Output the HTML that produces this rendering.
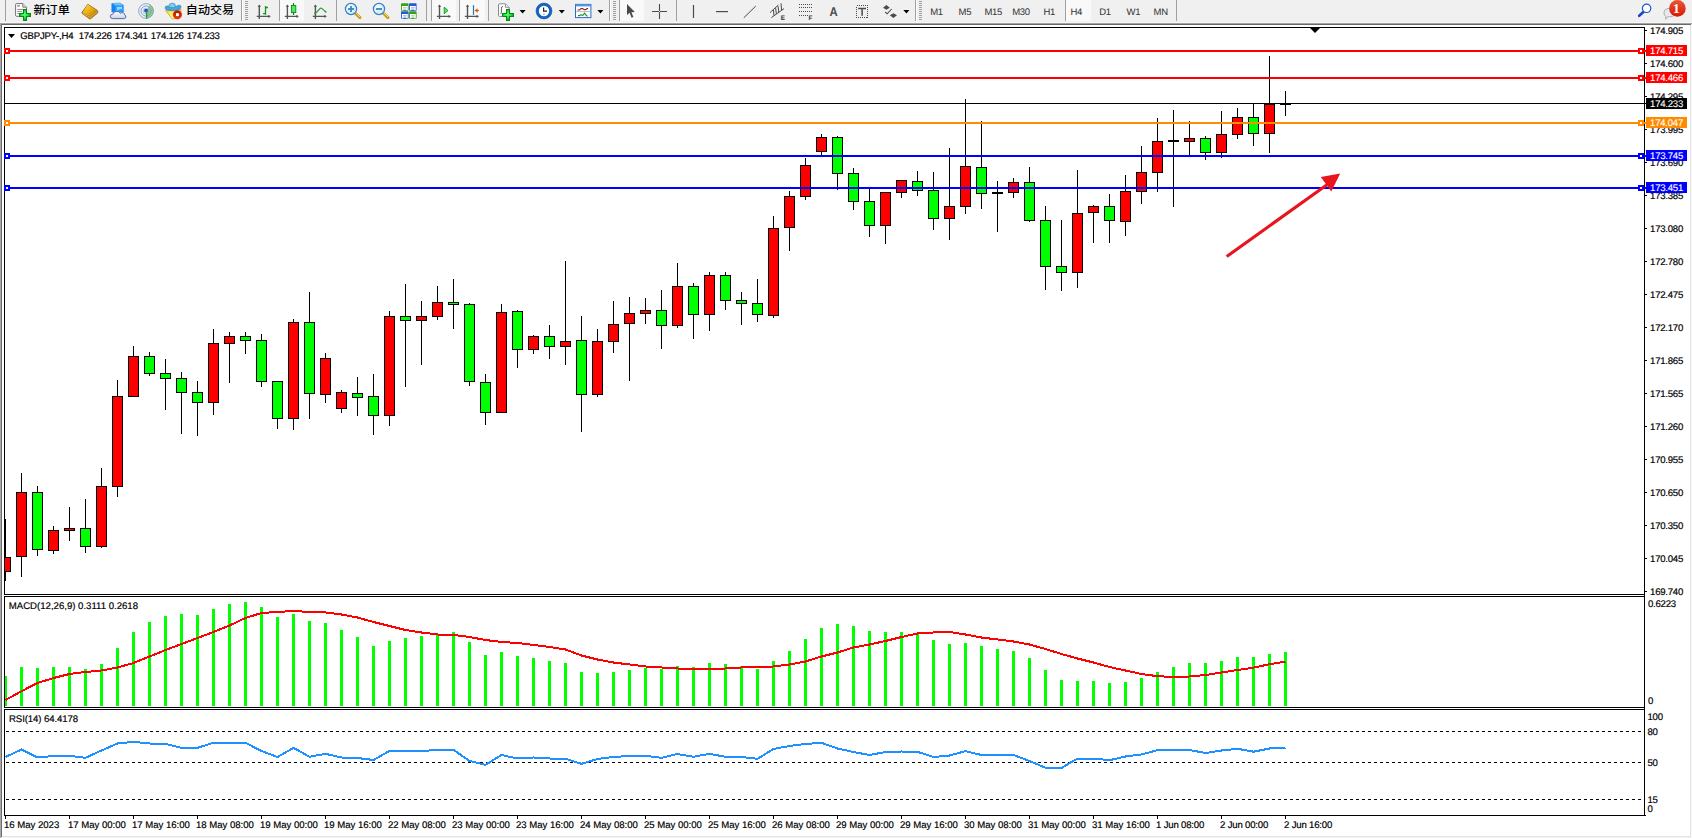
<!DOCTYPE html>
<html lang="zh"><head><meta charset="utf-8"><title>GBPJPY-,H4</title>
<style>
html,body{margin:0;padding:0;background:#fff;width:1692px;height:838px;overflow:hidden}
svg{position:absolute;left:0;top:0;display:block}
text{font-family:"Liberation Sans","Noto Sans CJK SC",sans-serif;font-size:9.6px;fill:#000;white-space:pre;text-rendering:geometricPrecision;stroke:#000;stroke-width:0.18px}
.ce{shape-rendering:crispEdges}
.pl{letter-spacing:-0.25px}
.sy{letter-spacing:-0.19px}
.rs{letter-spacing:-0.1px}
.cj{font-size:12.1px;font-weight:500;letter-spacing:0px}
.tf{font-size:9.5px;fill:#383838;stroke:#383838;stroke-width:0.05px;letter-spacing:-0.35px}
.cj{stroke-width:0;text-rendering:auto}
.dt{letter-spacing:-0.02px}
.ti{letter-spacing:0px}
</style></head><body>
<svg width="1692" height="838" viewBox="0 0 1692 838">

<g class="ce">
<rect x="0" y="0" width="1692" height="838" fill="#ffffff"/>
<rect x="0" y="0" width="1692" height="22" fill="#f0f0f0"/>
<rect x="0" y="22" width="1692" height="1" fill="#f6f6f6"/>
<rect x="0" y="23" width="1692" height="1" fill="#a4a4a4"/>
<rect x="0" y="24" width="1691" height="1" fill="#696969"/>
<rect x="0" y="24" width="1" height="814" fill="#a8a8a8"/>
<rect x="1" y="25" width="1" height="813" fill="#6e6e6e"/>
<rect x="1690" y="25" width="1" height="813" fill="#e3e3e3"/>
<rect x="1691" y="24" width="1" height="814" fill="#f8f8f8"/>
<rect x="2" y="836" width="1689" height="1" fill="#e3e3e3"/>
<rect x="1" y="837" width="1691" height="1" fill="#f4f4f4"/>
</g>
<g class="ce" fill="#000">
<rect x="4" y="27" width="1641" height="1"/>
<rect x="4" y="27" width="1" height="568"/>
<rect x="4" y="594" width="1641" height="1"/>
<rect x="1644" y="27" width="1" height="789"/>
<rect x="4" y="596" width="1641" height="1"/>
<rect x="4" y="596" width="1" height="112"/>
<rect x="4" y="707" width="1641" height="1"/>
<rect x="4" y="709" width="1641" height="1"/>
<rect x="4" y="709" width="1" height="107"/>
<rect x="4" y="815" width="1642" height="1"/>
</g>
<g class="ce">
<rect x="5" y="519" width="1" height="62" fill="#000"/>
<rect x="5" y="557" width="6" height="15" fill="#000"/>
<rect x="5" y="558" width="5" height="13" fill="#ff0000"/>
<rect x="21" y="473" width="1" height="104" fill="#000"/>
<rect x="16" y="492" width="11" height="65" fill="#000"/>
<rect x="17" y="493" width="9" height="63" fill="#ff0000"/>
<rect x="37" y="486" width="1" height="70" fill="#000"/>
<rect x="32" y="492" width="11" height="58" fill="#000"/>
<rect x="33" y="493" width="9" height="56" fill="#00ff00"/>
<rect x="53" y="526" width="1" height="28" fill="#000"/>
<rect x="48" y="530" width="11" height="21" fill="#000"/>
<rect x="49" y="531" width="9" height="19" fill="#ff0000"/>
<rect x="69" y="507" width="1" height="34" fill="#000"/>
<rect x="64" y="528" width="11" height="3" fill="#000"/>
<rect x="65" y="529" width="9" height="1" fill="#ff0000"/>
<rect x="85" y="499" width="1" height="54" fill="#000"/>
<rect x="80" y="528" width="11" height="19" fill="#000"/>
<rect x="81" y="529" width="9" height="17" fill="#00ff00"/>
<rect x="101" y="468" width="1" height="80" fill="#000"/>
<rect x="96" y="486" width="11" height="61" fill="#000"/>
<rect x="97" y="487" width="9" height="59" fill="#ff0000"/>
<rect x="117" y="380" width="1" height="117" fill="#000"/>
<rect x="112" y="396" width="11" height="91" fill="#000"/>
<rect x="113" y="397" width="9" height="89" fill="#ff0000"/>
<rect x="133" y="346" width="1" height="51" fill="#000"/>
<rect x="128" y="356" width="11" height="41" fill="#000"/>
<rect x="129" y="357" width="9" height="39" fill="#ff0000"/>
<rect x="149" y="352" width="1" height="24" fill="#000"/>
<rect x="144" y="356" width="11" height="18" fill="#000"/>
<rect x="145" y="357" width="9" height="16" fill="#00ff00"/>
<rect x="165" y="359" width="1" height="51" fill="#000"/>
<rect x="160" y="373" width="11" height="6" fill="#000"/>
<rect x="161" y="374" width="9" height="4" fill="#00ff00"/>
<rect x="181" y="372" width="1" height="62" fill="#000"/>
<rect x="176" y="378" width="11" height="15" fill="#000"/>
<rect x="177" y="379" width="9" height="13" fill="#00ff00"/>
<rect x="197" y="381" width="1" height="55" fill="#000"/>
<rect x="192" y="392" width="11" height="11" fill="#000"/>
<rect x="193" y="393" width="9" height="9" fill="#00ff00"/>
<rect x="213" y="329" width="1" height="86" fill="#000"/>
<rect x="208" y="343" width="11" height="60" fill="#000"/>
<rect x="209" y="344" width="9" height="58" fill="#ff0000"/>
<rect x="229" y="332" width="1" height="51" fill="#000"/>
<rect x="224" y="336" width="11" height="8" fill="#000"/>
<rect x="225" y="337" width="9" height="6" fill="#ff0000"/>
<rect x="245" y="332" width="1" height="22" fill="#000"/>
<rect x="240" y="336" width="11" height="5" fill="#000"/>
<rect x="241" y="337" width="9" height="3" fill="#00ff00"/>
<rect x="261" y="334" width="1" height="53" fill="#000"/>
<rect x="256" y="340" width="11" height="42" fill="#000"/>
<rect x="257" y="341" width="9" height="40" fill="#00ff00"/>
<rect x="277" y="381" width="1" height="48" fill="#000"/>
<rect x="272" y="381" width="11" height="38" fill="#000"/>
<rect x="273" y="382" width="9" height="36" fill="#00ff00"/>
<rect x="293" y="319" width="1" height="111" fill="#000"/>
<rect x="288" y="322" width="11" height="97" fill="#000"/>
<rect x="289" y="323" width="9" height="95" fill="#ff0000"/>
<rect x="309" y="292" width="1" height="127" fill="#000"/>
<rect x="304" y="322" width="11" height="72" fill="#000"/>
<rect x="305" y="323" width="9" height="70" fill="#00ff00"/>
<rect x="325" y="353" width="1" height="50" fill="#000"/>
<rect x="320" y="358" width="11" height="37" fill="#000"/>
<rect x="321" y="359" width="9" height="35" fill="#ff0000"/>
<rect x="341" y="390" width="1" height="23" fill="#000"/>
<rect x="336" y="392" width="11" height="17" fill="#000"/>
<rect x="337" y="393" width="9" height="15" fill="#ff0000"/>
<rect x="357" y="377" width="1" height="39" fill="#000"/>
<rect x="352" y="393" width="11" height="5" fill="#000"/>
<rect x="353" y="394" width="9" height="3" fill="#00ff00"/>
<rect x="373" y="374" width="1" height="61" fill="#000"/>
<rect x="368" y="396" width="11" height="20" fill="#000"/>
<rect x="369" y="397" width="9" height="18" fill="#00ff00"/>
<rect x="389" y="311" width="1" height="115" fill="#000"/>
<rect x="384" y="316" width="11" height="100" fill="#000"/>
<rect x="385" y="317" width="9" height="98" fill="#ff0000"/>
<rect x="405" y="284" width="1" height="103" fill="#000"/>
<rect x="400" y="316" width="11" height="5" fill="#000"/>
<rect x="401" y="317" width="9" height="3" fill="#00ff00"/>
<rect x="421" y="301" width="1" height="64" fill="#000"/>
<rect x="416" y="316" width="11" height="5" fill="#000"/>
<rect x="417" y="317" width="9" height="3" fill="#ff0000"/>
<rect x="437" y="286" width="1" height="34" fill="#000"/>
<rect x="432" y="302" width="11" height="15" fill="#000"/>
<rect x="433" y="303" width="9" height="13" fill="#ff0000"/>
<rect x="453" y="279" width="1" height="50" fill="#000"/>
<rect x="448" y="302" width="11" height="3" fill="#000"/>
<rect x="449" y="303" width="9" height="1" fill="#00ff00"/>
<rect x="469" y="303" width="1" height="83" fill="#000"/>
<rect x="464" y="304" width="11" height="78" fill="#000"/>
<rect x="465" y="305" width="9" height="76" fill="#00ff00"/>
<rect x="485" y="374" width="1" height="51" fill="#000"/>
<rect x="480" y="382" width="11" height="31" fill="#000"/>
<rect x="481" y="383" width="9" height="29" fill="#00ff00"/>
<rect x="501" y="304" width="1" height="109" fill="#000"/>
<rect x="496" y="312" width="11" height="101" fill="#000"/>
<rect x="497" y="313" width="9" height="99" fill="#ff0000"/>
<rect x="517" y="310" width="1" height="58" fill="#000"/>
<rect x="512" y="311" width="11" height="39" fill="#000"/>
<rect x="513" y="312" width="9" height="37" fill="#00ff00"/>
<rect x="533" y="335" width="1" height="19" fill="#000"/>
<rect x="528" y="336" width="11" height="14" fill="#000"/>
<rect x="529" y="337" width="9" height="12" fill="#ff0000"/>
<rect x="549" y="325" width="1" height="34" fill="#000"/>
<rect x="544" y="336" width="11" height="11" fill="#000"/>
<rect x="545" y="337" width="9" height="9" fill="#00ff00"/>
<rect x="565" y="261" width="1" height="104" fill="#000"/>
<rect x="560" y="341" width="11" height="6" fill="#000"/>
<rect x="561" y="342" width="9" height="4" fill="#ff0000"/>
<rect x="581" y="316" width="1" height="116" fill="#000"/>
<rect x="576" y="340" width="11" height="55" fill="#000"/>
<rect x="577" y="341" width="9" height="53" fill="#00ff00"/>
<rect x="597" y="329" width="1" height="68" fill="#000"/>
<rect x="592" y="341" width="11" height="54" fill="#000"/>
<rect x="593" y="342" width="9" height="52" fill="#ff0000"/>
<rect x="613" y="301" width="1" height="52" fill="#000"/>
<rect x="608" y="324" width="11" height="18" fill="#000"/>
<rect x="609" y="325" width="9" height="16" fill="#ff0000"/>
<rect x="629" y="297" width="1" height="84" fill="#000"/>
<rect x="624" y="313" width="11" height="11" fill="#000"/>
<rect x="625" y="314" width="9" height="9" fill="#ff0000"/>
<rect x="645" y="298" width="1" height="26" fill="#000"/>
<rect x="640" y="310" width="11" height="4" fill="#000"/>
<rect x="641" y="311" width="9" height="2" fill="#ff0000"/>
<rect x="661" y="290" width="1" height="59" fill="#000"/>
<rect x="656" y="310" width="11" height="16" fill="#000"/>
<rect x="657" y="311" width="9" height="14" fill="#00ff00"/>
<rect x="677" y="263" width="1" height="65" fill="#000"/>
<rect x="672" y="286" width="11" height="40" fill="#000"/>
<rect x="673" y="287" width="9" height="38" fill="#ff0000"/>
<rect x="693" y="283" width="1" height="56" fill="#000"/>
<rect x="688" y="286" width="11" height="29" fill="#000"/>
<rect x="689" y="287" width="9" height="27" fill="#00ff00"/>
<rect x="709" y="272" width="1" height="59" fill="#000"/>
<rect x="704" y="275" width="11" height="40" fill="#000"/>
<rect x="705" y="276" width="9" height="38" fill="#ff0000"/>
<rect x="725" y="272" width="1" height="38" fill="#000"/>
<rect x="720" y="275" width="11" height="26" fill="#000"/>
<rect x="721" y="276" width="9" height="24" fill="#00ff00"/>
<rect x="741" y="292" width="1" height="33" fill="#000"/>
<rect x="736" y="300" width="11" height="4" fill="#000"/>
<rect x="737" y="301" width="9" height="2" fill="#00ff00"/>
<rect x="757" y="279" width="1" height="43" fill="#000"/>
<rect x="752" y="303" width="11" height="12" fill="#000"/>
<rect x="753" y="304" width="9" height="10" fill="#00ff00"/>
<rect x="773" y="216" width="1" height="102" fill="#000"/>
<rect x="768" y="228" width="11" height="88" fill="#000"/>
<rect x="769" y="229" width="9" height="86" fill="#ff0000"/>
<rect x="789" y="191" width="1" height="60" fill="#000"/>
<rect x="784" y="196" width="11" height="32" fill="#000"/>
<rect x="785" y="197" width="9" height="30" fill="#ff0000"/>
<rect x="805" y="158" width="1" height="42" fill="#000"/>
<rect x="800" y="165" width="11" height="32" fill="#000"/>
<rect x="801" y="166" width="9" height="30" fill="#ff0000"/>
<rect x="821" y="134" width="1" height="21" fill="#000"/>
<rect x="816" y="137" width="11" height="15" fill="#000"/>
<rect x="817" y="138" width="9" height="13" fill="#ff0000"/>
<rect x="837" y="136" width="1" height="54" fill="#000"/>
<rect x="832" y="137" width="11" height="37" fill="#000"/>
<rect x="833" y="138" width="9" height="35" fill="#00ff00"/>
<rect x="853" y="168" width="1" height="42" fill="#000"/>
<rect x="848" y="173" width="11" height="29" fill="#000"/>
<rect x="849" y="174" width="9" height="27" fill="#00ff00"/>
<rect x="869" y="188" width="1" height="49" fill="#000"/>
<rect x="864" y="201" width="11" height="25" fill="#000"/>
<rect x="865" y="202" width="9" height="23" fill="#00ff00"/>
<rect x="885" y="192" width="1" height="52" fill="#000"/>
<rect x="880" y="192" width="11" height="34" fill="#000"/>
<rect x="881" y="193" width="9" height="32" fill="#ff0000"/>
<rect x="901" y="180" width="1" height="18" fill="#000"/>
<rect x="896" y="180" width="11" height="13" fill="#000"/>
<rect x="897" y="181" width="9" height="11" fill="#ff0000"/>
<rect x="917" y="171" width="1" height="25" fill="#000"/>
<rect x="912" y="181" width="11" height="10" fill="#000"/>
<rect x="913" y="182" width="9" height="8" fill="#00ff00"/>
<rect x="933" y="172" width="1" height="58" fill="#000"/>
<rect x="928" y="190" width="11" height="29" fill="#000"/>
<rect x="929" y="191" width="9" height="27" fill="#00ff00"/>
<rect x="949" y="148" width="1" height="92" fill="#000"/>
<rect x="944" y="206" width="11" height="13" fill="#000"/>
<rect x="945" y="207" width="9" height="11" fill="#ff0000"/>
<rect x="965" y="99" width="1" height="115" fill="#000"/>
<rect x="960" y="166" width="11" height="41" fill="#000"/>
<rect x="961" y="167" width="9" height="39" fill="#ff0000"/>
<rect x="981" y="121" width="1" height="88" fill="#000"/>
<rect x="976" y="167" width="11" height="27" fill="#000"/>
<rect x="977" y="168" width="9" height="25" fill="#00ff00"/>
<rect x="997" y="181" width="1" height="51" fill="#000"/>
<rect x="992" y="192" width="11" height="2" fill="#000"/>
<rect x="1013" y="178" width="1" height="20" fill="#000"/>
<rect x="1008" y="182" width="11" height="11" fill="#000"/>
<rect x="1009" y="183" width="9" height="9" fill="#ff0000"/>
<rect x="1029" y="167" width="1" height="55" fill="#000"/>
<rect x="1024" y="182" width="11" height="39" fill="#000"/>
<rect x="1025" y="183" width="9" height="37" fill="#00ff00"/>
<rect x="1045" y="206" width="1" height="84" fill="#000"/>
<rect x="1040" y="220" width="11" height="47" fill="#000"/>
<rect x="1041" y="221" width="9" height="45" fill="#00ff00"/>
<rect x="1061" y="220" width="1" height="71" fill="#000"/>
<rect x="1056" y="266" width="11" height="7" fill="#000"/>
<rect x="1057" y="267" width="9" height="5" fill="#00ff00"/>
<rect x="1077" y="170" width="1" height="118" fill="#000"/>
<rect x="1072" y="213" width="11" height="60" fill="#000"/>
<rect x="1073" y="214" width="9" height="58" fill="#ff0000"/>
<rect x="1093" y="205" width="1" height="38" fill="#000"/>
<rect x="1088" y="206" width="11" height="7" fill="#000"/>
<rect x="1089" y="207" width="9" height="5" fill="#ff0000"/>
<rect x="1109" y="194" width="1" height="49" fill="#000"/>
<rect x="1104" y="206" width="11" height="15" fill="#000"/>
<rect x="1105" y="207" width="9" height="13" fill="#00ff00"/>
<rect x="1125" y="175" width="1" height="61" fill="#000"/>
<rect x="1120" y="191" width="11" height="31" fill="#000"/>
<rect x="1121" y="192" width="9" height="29" fill="#ff0000"/>
<rect x="1141" y="146" width="1" height="58" fill="#000"/>
<rect x="1136" y="172" width="11" height="20" fill="#000"/>
<rect x="1137" y="173" width="9" height="18" fill="#ff0000"/>
<rect x="1157" y="118" width="1" height="74" fill="#000"/>
<rect x="1152" y="141" width="11" height="32" fill="#000"/>
<rect x="1153" y="142" width="9" height="30" fill="#ff0000"/>
<rect x="1173" y="110" width="1" height="97" fill="#000"/>
<rect x="1168" y="140" width="11" height="2" fill="#000"/>
<rect x="1189" y="121" width="1" height="35" fill="#000"/>
<rect x="1184" y="138" width="11" height="4" fill="#000"/>
<rect x="1185" y="139" width="9" height="2" fill="#ff0000"/>
<rect x="1205" y="136" width="1" height="24" fill="#000"/>
<rect x="1200" y="138" width="11" height="15" fill="#000"/>
<rect x="1201" y="139" width="9" height="13" fill="#00ff00"/>
<rect x="1221" y="111" width="1" height="47" fill="#000"/>
<rect x="1216" y="134" width="11" height="19" fill="#000"/>
<rect x="1217" y="135" width="9" height="17" fill="#ff0000"/>
<rect x="1237" y="108" width="1" height="31" fill="#000"/>
<rect x="1232" y="117" width="11" height="18" fill="#000"/>
<rect x="1233" y="118" width="9" height="16" fill="#ff0000"/>
<rect x="1253" y="103" width="1" height="43" fill="#000"/>
<rect x="1248" y="117" width="11" height="17" fill="#000"/>
<rect x="1249" y="118" width="9" height="15" fill="#00ff00"/>
<rect x="1269" y="56" width="1" height="97" fill="#000"/>
<rect x="1264" y="104" width="11" height="30" fill="#000"/>
<rect x="1265" y="105" width="9" height="28" fill="#ff0000"/>
<rect x="1285" y="91" width="1" height="25" fill="#000"/>
<rect x="1280" y="104" width="11" height="1" fill="#000"/>
</g>
<g class="ce">
<rect x="5" y="103" width="1641" height="1" fill="#000"/>
<rect x="5" y="50" width="1641" height="2" fill="#ff0000"/>
<rect x="4" y="48" width="6" height="6" fill="#ff0000"/>
<rect x="6" y="50" width="2" height="2" fill="#fff"/>
<rect x="1638" y="48" width="6" height="6" fill="#ff0000"/>
<rect x="1640" y="50" width="2" height="2" fill="#fff"/>
<rect x="5" y="77" width="1641" height="2" fill="#ff0000"/>
<rect x="4" y="75" width="6" height="6" fill="#ff0000"/>
<rect x="6" y="77" width="2" height="2" fill="#fff"/>
<rect x="1638" y="75" width="6" height="6" fill="#ff0000"/>
<rect x="1640" y="77" width="2" height="2" fill="#fff"/>
<rect x="5" y="122" width="1641" height="2" fill="#ff8c00"/>
<rect x="4" y="120" width="6" height="6" fill="#ff8c00"/>
<rect x="6" y="122" width="2" height="2" fill="#fff"/>
<rect x="1638" y="120" width="6" height="6" fill="#ff8c00"/>
<rect x="1640" y="122" width="2" height="2" fill="#fff"/>
<rect x="5" y="155" width="1641" height="2" fill="#0000ff"/>
<rect x="4" y="153" width="6" height="6" fill="#0000ff"/>
<rect x="6" y="155" width="2" height="2" fill="#fff"/>
<rect x="1638" y="153" width="6" height="6" fill="#0000ff"/>
<rect x="1640" y="155" width="2" height="2" fill="#fff"/>
<rect x="5" y="187" width="1641" height="2" fill="#0000ff"/>
<rect x="4" y="185" width="6" height="6" fill="#0000ff"/>
<rect x="6" y="187" width="2" height="2" fill="#fff"/>
<rect x="1638" y="185" width="6" height="6" fill="#0000ff"/>
<rect x="1640" y="187" width="2" height="2" fill="#fff"/>
</g>
<g fill="#e8141e" stroke="none"><path d="M1225.8,255.2 L1227.6,257.8 L1328.6,185.6 L1326.8,183.0 Z"/><path d="M1340.2,173.6 L1320.8,177.0 L1331.3,191.4 Z"/></g>
<path d="M1310,28 L1320,28 L1315,33 Z" fill="#000"/>
<g class="ce" fill="#000">
<rect x="1645" y="30" width="2" height="1"/>
<rect x="1645" y="63" width="2" height="1"/>
<rect x="1645" y="96" width="2" height="1"/>
<rect x="1645" y="129" width="2" height="1"/>
<rect x="1645" y="162" width="2" height="1"/>
<rect x="1645" y="195" width="2" height="1"/>
<rect x="1645" y="228" width="2" height="1"/>
<rect x="1645" y="261" width="2" height="1"/>
<rect x="1645" y="294" width="2" height="1"/>
<rect x="1645" y="327" width="2" height="1"/>
<rect x="1645" y="360" width="2" height="1"/>
<rect x="1645" y="393" width="2" height="1"/>
<rect x="1645" y="426" width="2" height="1"/>
<rect x="1645" y="459" width="2" height="1"/>
<rect x="1645" y="492" width="2" height="1"/>
<rect x="1645" y="525" width="2" height="1"/>
<rect x="1645" y="558" width="2" height="1"/>
<rect x="1645" y="591" width="2" height="1"/>
</g>
<text class="pl"  x="1650.1" y="34">174.905</text>
<text class="pl"  x="1650.1" y="67">174.600</text>
<text class="pl"  x="1650.1" y="100">174.295</text>
<text class="pl"  x="1650.1" y="133">173.995</text>
<text class="pl"  x="1650.1" y="166">173.690</text>
<text class="pl"  x="1650.1" y="199">173.385</text>
<text class="pl"  x="1650.1" y="232">173.080</text>
<text class="pl"  x="1650.1" y="265">172.780</text>
<text class="pl"  x="1650.1" y="298">172.475</text>
<text class="pl"  x="1650.1" y="331">172.170</text>
<text class="pl"  x="1650.1" y="364">171.865</text>
<text class="pl"  x="1650.1" y="397">171.565</text>
<text class="pl"  x="1650.1" y="430">171.260</text>
<text class="pl"  x="1650.1" y="463">170.955</text>
<text class="pl"  x="1650.1" y="496">170.650</text>
<text class="pl"  x="1650.1" y="529">170.350</text>
<text class="pl"  x="1650.1" y="562">170.045</text>
<text class="pl"  x="1650.1" y="595">169.740</text>
<rect class="ce" x="1646" y="45" width="41" height="11" fill="#ff0000"/>
<text class="pl"  x="1650.1" y="53.8" style="fill:#fff;stroke:#fff;stroke-width:0.1px">174.715</text>
<rect class="ce" x="1646" y="72" width="41" height="11" fill="#ff0000"/>
<text class="pl"  x="1650.1" y="80.8" style="fill:#fff;stroke:#fff;stroke-width:0.1px">174.466</text>
<rect class="ce" x="1646" y="117" width="41" height="11" fill="#ff8c00"/>
<text class="pl"  x="1650.1" y="125.8" style="fill:#fff;stroke:#fff;stroke-width:0.1px">174.047</text>
<rect class="ce" x="1646" y="150" width="41" height="11" fill="#0000ff"/>
<text class="pl"  x="1650.1" y="158.8" style="fill:#fff;stroke:#fff;stroke-width:0.1px">173.745</text>
<rect class="ce" x="1646" y="182" width="41" height="11" fill="#0000ff"/>
<text class="pl"  x="1650.1" y="190.8" style="fill:#fff;stroke:#fff;stroke-width:0.1px">173.451</text>
<rect class="ce" x="1646" y="98" width="41" height="11" fill="#000000"/>
<text class="pl"  x="1650.1" y="106.8" style="fill:#fff;stroke:#fff;stroke-width:0.1px">174.233</text>
<path d="M8,34 L15,34 L11.5,38 Z" fill="#000"/>
<text class="sy"  x="20.2" y="39">GBPJPY-,H4</text>
<text class="pl"  x="78.70" y="39">174.226</text>
<text class="pl"  x="114.73" y="39">174.341</text>
<text class="pl"  x="150.76" y="39">174.126</text>
<text class="pl"  x="186.79" y="39">174.233</text>
<g class="ce" fill="#00ff00">
<rect x="5" y="676" width="2" height="30"/>
<rect x="20" y="667" width="3" height="39"/>
<rect x="36" y="668" width="3" height="38"/>
<rect x="52" y="667" width="3" height="39"/>
<rect x="68" y="667" width="3" height="39"/>
<rect x="84" y="669" width="3" height="37"/>
<rect x="100" y="664" width="3" height="42"/>
<rect x="116" y="648" width="3" height="58"/>
<rect x="132" y="632" width="3" height="74"/>
<rect x="148" y="622" width="3" height="84"/>
<rect x="164" y="616" width="3" height="90"/>
<rect x="180" y="614" width="3" height="92"/>
<rect x="196" y="615" width="3" height="91"/>
<rect x="212" y="609" width="3" height="97"/>
<rect x="228" y="604" width="3" height="102"/>
<rect x="244" y="602" width="3" height="104"/>
<rect x="260" y="607" width="3" height="99"/>
<rect x="276" y="617" width="3" height="89"/>
<rect x="292" y="614" width="3" height="92"/>
<rect x="308" y="621" width="3" height="85"/>
<rect x="324" y="623" width="3" height="83"/>
<rect x="340" y="630" width="3" height="76"/>
<rect x="356" y="637" width="3" height="69"/>
<rect x="372" y="646" width="3" height="60"/>
<rect x="388" y="641" width="3" height="65"/>
<rect x="404" y="638" width="3" height="68"/>
<rect x="420" y="636" width="3" height="70"/>
<rect x="436" y="634" width="3" height="72"/>
<rect x="452" y="632" width="3" height="74"/>
<rect x="468" y="642" width="3" height="64"/>
<rect x="484" y="655" width="3" height="51"/>
<rect x="500" y="652" width="3" height="54"/>
<rect x="516" y="656" width="3" height="50"/>
<rect x="532" y="658" width="3" height="48"/>
<rect x="548" y="661" width="3" height="45"/>
<rect x="564" y="663" width="3" height="43"/>
<rect x="580" y="672" width="3" height="34"/>
<rect x="596" y="673" width="3" height="33"/>
<rect x="612" y="672" width="3" height="34"/>
<rect x="628" y="670" width="3" height="36"/>
<rect x="644" y="668" width="3" height="38"/>
<rect x="660" y="669" width="3" height="37"/>
<rect x="676" y="666" width="3" height="40"/>
<rect x="692" y="667" width="3" height="39"/>
<rect x="708" y="663" width="3" height="43"/>
<rect x="724" y="664" width="3" height="42"/>
<rect x="740" y="666" width="3" height="40"/>
<rect x="756" y="669" width="3" height="37"/>
<rect x="772" y="661" width="3" height="45"/>
<rect x="788" y="651" width="3" height="55"/>
<rect x="804" y="639" width="3" height="67"/>
<rect x="820" y="628" width="3" height="78"/>
<rect x="836" y="624" width="3" height="82"/>
<rect x="852" y="626" width="3" height="80"/>
<rect x="868" y="631" width="3" height="75"/>
<rect x="884" y="632" width="3" height="74"/>
<rect x="900" y="632" width="3" height="74"/>
<rect x="916" y="634" width="3" height="72"/>
<rect x="932" y="640" width="3" height="66"/>
<rect x="948" y="644" width="3" height="62"/>
<rect x="964" y="643" width="3" height="63"/>
<rect x="980" y="646" width="3" height="60"/>
<rect x="996" y="649" width="3" height="57"/>
<rect x="1012" y="651" width="3" height="55"/>
<rect x="1028" y="658" width="3" height="48"/>
<rect x="1044" y="670" width="3" height="36"/>
<rect x="1060" y="680" width="3" height="26"/>
<rect x="1076" y="681" width="3" height="25"/>
<rect x="1092" y="681" width="3" height="25"/>
<rect x="1108" y="683" width="3" height="23"/>
<rect x="1124" y="682" width="3" height="24"/>
<rect x="1140" y="678" width="3" height="28"/>
<rect x="1156" y="672" width="3" height="34"/>
<rect x="1172" y="667" width="3" height="39"/>
<rect x="1188" y="663" width="3" height="43"/>
<rect x="1204" y="663" width="3" height="43"/>
<rect x="1220" y="661" width="3" height="45"/>
<rect x="1236" y="657" width="3" height="49"/>
<rect x="1252" y="657" width="3" height="49"/>
<rect x="1268" y="654" width="3" height="52"/>
<rect x="1284" y="652" width="3" height="54"/>
</g>
<polyline class="ce" points="5.5,700.0 21.5,691.2 37.5,683.0 53.5,678.0 69.5,674.0 85.5,672.0 101.5,670.5 117.5,667.5 133.5,663.0 149.5,656.5 165.5,650.0 181.5,644.0 197.5,638.0 213.5,632.0 229.5,625.5 245.5,618.0 261.5,613.0 277.5,612.0 293.5,611.0 309.5,612.0 325.5,612.5 341.5,614.5 357.5,617.5 373.5,622.0 389.5,626.0 405.5,630.0 421.5,632.5 437.5,634.5 453.5,635.0 469.5,637.0 485.5,640.0 501.5,642.0 517.5,643.0 533.5,645.0 549.5,647.0 565.5,649.5 581.5,655.5 597.5,659.5 613.5,662.5 629.5,664.5 645.5,666.5 661.5,667.5 677.5,668.5 693.5,668.8 709.5,668.8 725.5,668.5 741.5,667.5 757.5,667.0 773.5,666.5 789.5,664.5 805.5,661.5 821.5,656.5 837.5,652.5 853.5,647.5 869.5,644.5 885.5,641.0 901.5,637.0 917.5,633.5 933.5,632.5 949.5,632.0 965.5,634.5 981.5,637.5 997.5,639.5 1013.5,641.5 1029.5,644.5 1045.5,649.0 1061.5,654.0 1077.5,658.5 1093.5,662.5 1109.5,667.0 1125.5,670.5 1141.5,674.0 1157.5,676.2 1173.5,677.0 1189.5,676.5 1205.5,675.0 1221.5,672.5 1237.5,670.0 1253.5,667.7 1269.5,664.2 1285.5,661.7" fill="none" stroke="#ff0000" stroke-width="2"/>
<text class="ti"  x="8.8" y="609">MACD(12,26,9) 0.3111 0.2618</text>
<text class="pl"  x="1648" y="607.3">0.6223</text>
<text class="pl"  x="1648" y="704.3">0</text>
<g class="ce" stroke="#000" stroke-width="1" stroke-dasharray="3 3">
<line x1="6" y1="731.5" x2="1644" y2="731.5"/>
<line x1="6" y1="762.5" x2="1644" y2="762.5"/>
<line x1="6" y1="799.5" x2="1644" y2="799.5"/>
</g>
<polyline class="ce" points="5.5,757.0 21.5,749.5 37.5,757.5 53.5,756.0 69.5,755.8 85.5,757.8 101.5,750.5 117.5,743.5 133.5,741.8 149.5,743.5 165.5,744.0 181.5,747.8 197.5,747.8 213.5,742.8 229.5,742.8 245.5,742.8 261.5,751.0 277.5,757.0 293.5,747.8 309.5,756.8 325.5,753.8 341.5,757.5 357.5,758.0 373.5,760.0 389.5,750.8 405.5,750.8 421.5,750.8 437.5,750.2 453.5,749.8 469.5,761.0 485.5,764.8 501.5,755.0 517.5,758.5 533.5,757.5 549.5,758.5 565.5,758.8 581.5,763.8 597.5,759.0 613.5,757.0 629.5,756.0 645.5,755.8 661.5,757.8 677.5,754.0 693.5,756.8 709.5,753.8 725.5,756.8 741.5,757.0 757.5,758.8 773.5,749.0 789.5,746.0 805.5,744.0 821.5,742.8 837.5,748.5 853.5,752.0 869.5,755.0 885.5,752.0 901.5,751.5 917.5,751.8 933.5,757.0 949.5,755.5 965.5,751.2 981.5,755.0 997.5,755.0 1013.5,755.0 1029.5,761.0 1045.5,767.8 1061.5,768.0 1077.5,758.5 1093.5,758.5 1109.5,760.2 1125.5,756.5 1141.5,754.5 1157.5,750.2 1173.5,750.0 1189.5,750.0 1205.5,753.0 1221.5,750.5 1237.5,748.8 1253.5,751.7 1269.5,748.5 1285.5,747.9" fill="none" stroke="#1e90ff" stroke-width="2"/>
<text class="rs"  x="9" y="722">RSI(14) 64.4178</text>
<text class="pl"  x="1647.5" y="719.6">100</text>
<text class="pl"  x="1647.5" y="735">80</text>
<text class="pl"  x="1647.5" y="766">50</text>
<text class="pl"  x="1647.5" y="802.7">15</text>
<text class="pl"  x="1647.5" y="811.6">0</text>
<g class="ce" fill="#000">
<rect x="5" y="816" width="1" height="3"/>
<rect x="69" y="816" width="1" height="3"/>
<rect x="133" y="816" width="1" height="3"/>
<rect x="197" y="816" width="1" height="3"/>
<rect x="261" y="816" width="1" height="3"/>
<rect x="325" y="816" width="1" height="3"/>
<rect x="389" y="816" width="1" height="3"/>
<rect x="453" y="816" width="1" height="3"/>
<rect x="517" y="816" width="1" height="3"/>
<rect x="581" y="816" width="1" height="3"/>
<rect x="645" y="816" width="1" height="3"/>
<rect x="709" y="816" width="1" height="3"/>
<rect x="773" y="816" width="1" height="3"/>
<rect x="837" y="816" width="1" height="3"/>
<rect x="901" y="816" width="1" height="3"/>
<rect x="965" y="816" width="1" height="3"/>
<rect x="1029" y="816" width="1" height="3"/>
<rect x="1093" y="816" width="1" height="3"/>
<rect x="1157" y="816" width="1" height="3"/>
<rect x="1221" y="816" width="1" height="3"/>
<rect x="1285" y="816" width="1" height="3"/>
</g>
<text class="dt" x="4.0" y="828">16 May 2023</text>
<text class="dt" x="68.0" y="828">17 May 00:00</text>
<text class="dt" x="132.0" y="828">17 May 16:00</text>
<text class="dt" x="196.0" y="828">18 May 08:00</text>
<text class="dt" x="260.0" y="828">19 May 00:00</text>
<text class="dt" x="324.0" y="828">19 May 16:00</text>
<text class="dt" x="388.0" y="828">22 May 08:00</text>
<text class="dt" x="452.0" y="828">23 May 00:00</text>
<text class="dt" x="516.0" y="828">23 May 16:00</text>
<text class="dt" x="580.0" y="828">24 May 08:00</text>
<text class="dt" x="644.0" y="828">25 May 00:00</text>
<text class="dt" x="708.0" y="828">25 May 16:00</text>
<text class="dt" x="772.0" y="828">26 May 08:00</text>
<text class="dt" x="836.0" y="828">29 May 00:00</text>
<text class="dt" x="900.0" y="828">29 May 16:00</text>
<text class="dt" x="964.0" y="828">30 May 08:00</text>
<text class="dt" x="1028.0" y="828">31 May 00:00</text>
<text class="dt" x="1092.0" y="828">31 May 16:00</text>
<text class="dt" style="letter-spacing:-0.18px" x="1156.0" y="828">1 Jun 08:00</text>
<text class="dt" style="letter-spacing:-0.18px" x="1220.0" y="828">2 Jun 00:00</text>
<text class="dt" style="letter-spacing:-0.18px" x="1284.0" y="828">2 Jun 16:00</text>
<defs>
<radialGradient id="gp" cx="0.45" cy="0.45" r="0.6"><stop offset="0" stop-color="#66ff80"/><stop offset="0.6" stop-color="#22d83a"/><stop offset="1" stop-color="#089a18"/></radialGradient>
<linearGradient id="gold" x1="0" y1="0" x2="1" y2="1"><stop offset="0" stop-color="#fbe060"/><stop offset="0.5" stop-color="#e8b010"/><stop offset="1" stop-color="#b87808"/></linearGradient>
<linearGradient id="rb" x1="0" y1="0" x2="0" y2="1"><stop offset="0" stop-color="#ea5535"/><stop offset="1" stop-color="#d81808"/></linearGradient>
<radialGradient id="lens" cx="0.4" cy="0.35" r="0.7"><stop offset="0" stop-color="#fff"/><stop offset="1" stop-color="#bfe4f8"/></radialGradient>
<linearGradient id="cl" x1="0" y1="0" x2="0" y2="1"><stop offset="0" stop-color="#fff"/><stop offset="1" stop-color="#c8d4e8"/></linearGradient>
</defs>
<rect class="ce" x="5" y="0" width="1" height="21" fill="#a0a0a0"/>
<path d="M16.6,3.6 h6.2 l3.6,3.6 v8.1 q0,1 -1,1 h-8.8 q-1,0 -1,-1 v-10.7 q0,-1 1,-1 z" fill="#fff" stroke="#727272" stroke-width="1"/>
<path d="M22.8,3.6 v3.6 h3.6" fill="#e0e0e0" stroke="#727272" stroke-width="0.9"/>
<rect x="17.2" y="5.2" width="2.6" height="1.4" fill="#858585"/><path d="M17.2,9.4 h6 M17.2,11.4 h4.6 M17.2,13.4 h2.4" stroke="#858585" stroke-width="0.9"/>
<path class="ce" d="M23,9 H27 V13 H31 V17 H27 V21 H23 V17 H19 V13 H23 z" fill="#048a10"/><path class="ce" d="M24,10 H26 V14 H30 V16 H26 V20 H24 V16 H20 V14 H24 z" fill="url(#gp)"/>
<text class="cj" transform="matrix(1 0 0 0.93 0 0.994)" x="33.5" y="14.2">新订单</text>
<path d="M87.7,4.2 L96.9,10 Q98.5,11.6 97.7,12.9 L90.6,18.8 Q90,19.2 89.3,18.7 L82.2,13.5 Q81.5,12.8 82.2,11.9 Q85,8.6 87.7,4.2 z" fill="#b87c10" stroke="#986408" stroke-width="0.7"/>
<path d="M87.6,4.6 L96.4,10.3 L90.2,16.4 L82.8,12.4 Q85.4,8.8 87.6,4.6 z" fill="url(#gold)"/>
<path d="M83.2,13.4 L90.2,17.5 L97.2,11.4" fill="none" stroke="#f4d878" stroke-width="0.7" opacity="0.9"/>
<path d="M111.9,3.6 L120,3.1 L123.3,5.2 L123.3,12 L111.9,12 z" fill="#28a4ff" stroke="#0c6cd8" stroke-width="0.6"/>
<path d="M111.9,3.6 L115.2,5.2 L115.2,12 L111.9,12 z" fill="#1484ec"/><path d="M111.9,3.6 L120,3.1 L123.3,5.2 L115.2,5.2 z" fill="#6cc4ff"/>
<path d="M117,8 h5" stroke="#f0faff" stroke-width="1.2"/><path d="M117,9.8 h2.4" stroke="#c8e8ff" stroke-width="0.8"/>
<path d="M112.4,18.6 Q110.2,18.4 110.3,16.2 Q110.6,14.2 112.8,14.2 Q113.4,11.4 116.8,11.3 Q119.6,11.3 120.4,13.4 Q121.8,12.2 123.4,12.8 Q124.8,13.4 124.6,15 Q126,15.4 125.9,17 Q125.6,18.6 123.8,18.6 Z" fill="url(#cl)" stroke="#4060a0" stroke-width="0.9"/>
<g fill="none"><circle cx="146" cy="11" r="7.4" stroke="#6a8fd8" stroke-width="1" opacity="0.75"/><circle cx="146" cy="11" r="5" stroke="#5a80d0" stroke-width="1" opacity="0.7"/><circle cx="146" cy="11" r="2.8" stroke="#88a8e0" stroke-width="0.9" opacity="0.7"/></g>
<path d="M146,11 L146,18.6 A7.6,7.6 0 0 0 153.6,11 A7.6,7.6 0 0 0 150,4.6 z" fill="#58a858" opacity="0.55"/>
<circle cx="146" cy="10.6" r="1.9" fill="#2050c8"/><path d="M146.6,11.5 V18.6" stroke="#18a828" stroke-width="1.3"/>
<defs><linearGradient id="yf" x1="0" y1="0" x2="0.3" y2="1"><stop offset="0" stop-color="#f6d428"/><stop offset="1" stop-color="#ffff98"/></linearGradient><linearGradient id="rs" x1="0" y1="0" x2="0" y2="1"><stop offset="0" stop-color="#b41400"/><stop offset="1" stop-color="#ff3400"/></linearGradient></defs>
<path d="M165.4,10.2 L180.8,9.2 L180.8,11.6 L174.8,18.8 L172.2,18.8 z" fill="url(#yf)" stroke="#c09010" stroke-width="0.7"/>
<path d="M165.1,8.2 Q164.8,5.8 167.6,5.9 Q169,6 169.6,6.6 Q172.6,8.4 176.2,6.4 Q177.6,5.2 179.4,5.2 Q181.2,5.4 181,7.2 Q180.2,10.4 172.8,10.6 Q166,10.6 165.1,8.2 z" fill="#48a4dc" stroke="#2a86b0" stroke-width="0.7"/>
<path d="M168.8,7 Q168.6,3.2 172.2,3.1 Q175.8,3.2 175.8,7 Q172.4,8.6 168.8,7 z" fill="#84c8f0" stroke="#2a86b0" stroke-width="0.6"/>
<circle cx="177.4" cy="14.7" r="4.2" fill="url(#rs)" stroke="#a81400" stroke-width="0.5"/><rect x="176" y="13.2" width="2.9" height="2.9" fill="#fff"/>
<text class="cj" transform="matrix(1 0 0 0.93 0 1.008)" x="185.8" y="14.4">自动交易</text>
<rect class="ce" x="241" y="0" width="1" height="21" fill="#a0a0a0"/>
<rect class="ce" x="242" y="0" width="1" height="21" fill="#fff"/>
<rect class="ce" x="245" y="1" width="3" height="1" fill="#a0a0a0"/>
<rect class="ce" x="245" y="3" width="3" height="1" fill="#a0a0a0"/>
<rect class="ce" x="245" y="5" width="3" height="1" fill="#a0a0a0"/>
<rect class="ce" x="245" y="7" width="3" height="1" fill="#a0a0a0"/>
<rect class="ce" x="245" y="9" width="3" height="1" fill="#a0a0a0"/>
<rect class="ce" x="245" y="11" width="3" height="1" fill="#a0a0a0"/>
<rect class="ce" x="245" y="13" width="3" height="1" fill="#a0a0a0"/>
<rect class="ce" x="245" y="15" width="3" height="1" fill="#a0a0a0"/>
<rect class="ce" x="245" y="17" width="3" height="1" fill="#a0a0a0"/>
<rect class="ce" x="245" y="19" width="3" height="1" fill="#a0a0a0"/>
<g stroke="#555" stroke-width="1.4" fill="none"><path d="M259.3,5.6 V19 M256.7,16.4 H269.90000000000003"/></g>
<path d="M259.3,4.4 l1.7,2.4 h-3.4 z M270.7,16.4 l-2.4,-1.7 v3.4 z" fill="#555"/>
<path d="M265.5,6 V14.8 M265.5,7.5 H268 M263,13.6 H265.5" stroke="#0a9a1a" stroke-width="1.3" fill="none"/>
<rect class="ce" x="280" y="0" width="24" height="21" fill="#f9f9f9"/>
<rect class="ce" x="279" y="0" width="1" height="21" fill="#a0a0a0"/>
<g stroke="#555" stroke-width="1.4" fill="none"><path d="M287.4,5.6 V19 M284.79999999999995,16.4 H298.0"/></g>
<path d="M287.4,4.4 l1.7,2.4 h-3.4 z M298.79999999999995,16.4 l-2.4,-1.7 v3.4 z" fill="#555"/>
<path d="M293.5,3 V15" stroke="#0a8a1a" stroke-width="1.2"/><rect x="291.4" y="5.4" width="4.4" height="7.2" fill="#4ce860" stroke="#0a8a1a" stroke-width="0.9"/>
<g stroke="#555" stroke-width="1.4" fill="none"><path d="M315.4,5.6 V19 M312.79999999999995,16.4 H326.0"/></g>
<path d="M315.4,4.4 l1.7,2.4 h-3.4 z M326.79999999999995,16.4 l-2.4,-1.7 v3.4 z" fill="#555"/>
<path d="M314.2,13.6 Q317,12.4 319,9.6 Q320.4,7.6 321.8,8.4 Q323.4,9.4 324.6,11 Q325.6,12 326.6,12.2" stroke="#2a9a3a" stroke-width="1.2" fill="none"/>
<rect class="ce" x="336" y="0" width="1" height="21" fill="#a0a0a0"/>
<path d="M355,13 L360,17.6" stroke="#c89810" stroke-width="3" stroke-linecap="round"/><path d="M355.4,12.6 L360,17" stroke="#f8e070" stroke-width="1" stroke-linecap="round"/>
<circle cx="351" cy="9" r="5.6" fill="url(#lens)" stroke="#3880c8" stroke-width="1.2"/>
<path d="M348,9 h6" stroke="#3888b8" stroke-width="1.8"/>
<path d="M351,6 v6" stroke="#3888b8" stroke-width="1.8"/>
<path d="M383,13 L388,17.6" stroke="#c89810" stroke-width="3" stroke-linecap="round"/><path d="M383.4,12.6 L388,17" stroke="#f8e070" stroke-width="1" stroke-linecap="round"/>
<circle cx="379" cy="9" r="5.6" fill="url(#lens)" stroke="#3880c8" stroke-width="1.2"/>
<path d="M376,9 h6" stroke="#3888b8" stroke-width="1.8"/>
<rect x="401" y="3.2" width="7.6" height="7.6" rx="0.8" fill="#38a018"/><rect x="401.9" y="6.0" width="5.9" height="4.2" fill="#fff"/><rect x="402.9" y="7.3" width="3.9" height="1.1" fill="#98d888"/><rect x="403.4" y="9.600000000000001" width="2.8" height="1.2" fill="#38a018"/>
<rect x="409" y="3.2" width="7.6" height="7.6" rx="0.8" fill="#2858d8"/><rect x="409.9" y="6.0" width="5.9" height="4.2" fill="#fff"/><rect x="410.9" y="7.3" width="3.9" height="1.1" fill="#88a8f0"/><rect x="411.4" y="9.600000000000001" width="2.8" height="1.2" fill="#2858d8"/>
<rect x="401" y="11.2" width="7.6" height="7.6" rx="0.8" fill="#2858d8"/><rect x="401.9" y="14.0" width="5.9" height="4.2" fill="#fff"/><rect x="402.9" y="15.299999999999999" width="3.9" height="1.1" fill="#88a8f0"/><rect x="403.4" y="17.6" width="2.8" height="1.2" fill="#2858d8"/>
<rect x="409" y="11.2" width="7.6" height="7.6" rx="0.8" fill="#38a018"/><rect x="409.9" y="14.0" width="5.9" height="4.2" fill="#fff"/><rect x="410.9" y="15.299999999999999" width="3.9" height="1.1" fill="#98d888"/><rect x="411.4" y="17.6" width="2.8" height="1.2" fill="#38a018"/>
<rect class="ce" x="426" y="0" width="1" height="21" fill="#a0a0a0"/>
<rect class="ce" x="432" y="0" width="24" height="21" fill="#f9f9f9"/>
<rect class="ce" x="431" y="0" width="1" height="21" fill="#a0a0a0"/>
<g stroke="#555" stroke-width="1.4" fill="none"><path d="M439.5,5.6 V19 M436.9,16.4 H450.1"/></g>
<path d="M439.5,4.4 l1.7,2.4 h-3.4 z M450.9,16.4 l-2.4,-1.7 v3.4 z" fill="#555"/>
<path d="M444.2,7.2 L448,10.5 L444.2,13.8 z" fill="#58e868" stroke="#0a9a1a" stroke-width="0.9"/>
<rect class="ce" x="460" y="0" width="25" height="21" fill="#f9f9f9"/>
<rect class="ce" x="459" y="0" width="1" height="21" fill="#a0a0a0"/>
<g stroke="#555" stroke-width="1.4" fill="none"><path d="M467.5,5.6 V19 M464.9,16.4 H478.1"/></g>
<path d="M467.5,4.4 l1.7,2.4 h-3.4 z M478.9,16.4 l-2.4,-1.7 v3.4 z" fill="#555"/>
<path d="M473.5,5.2 V14.8" stroke="#1878b8" stroke-width="1.2"/><path d="M474.6,10.5 l3,-2.2 v1.6 h1.4 v1.2 h-1.4 v1.6 z" fill="#e05808"/>
<rect class="ce" x="488" y="0" width="1" height="21" fill="#a0a0a0"/>
<path d="M499.5,3.8 h6 l3.6,3.6 v8 q0,1 -1,1 h-8.6 q-1,0 -1,-1 v-10.6 q0,-1 1,-1 z" fill="#fff" stroke="#8a8a8a" stroke-width="1"/><path d="M505.5,3.8 v3.6 h3.6" fill="#e8e8e8" stroke="#8a8a8a" stroke-width="0.8"/>
<path d="M503,6.5 q-1.6,0 -1.6,1.6 v4 q0,1.6 -1,1.6" stroke="#555" stroke-width="0.9" fill="none"/>
<path class="ce" d="M506,9 H510 V13 H514 V17 H510 V21 H506 V17 H502 V13 H506 z" fill="#048a10"/><path class="ce" d="M507,10 H509 V14 H513 V16 H509 V20 H507 V16 H503 V14 H507 z" fill="url(#gp)"/>
<path d="M519.6,10 h6 l-3,3.4 z" fill="#000"/>
<circle cx="544" cy="11" r="6.6" fill="#fff" stroke="#1464c4" stroke-width="2.8"/><circle cx="544" cy="11" r="8" fill="none" stroke="#0c4898" stroke-width="0.5"/>
<path d="M543.6,7.4 V11.2 H547" stroke="#222" stroke-width="1.2" fill="none"/><circle cx="544" cy="14.2" r="0.8" fill="#68a8e8"/>
<path d="M558.8,10 h6 l-3,3.4 z" fill="#000"/>
<rect x="575.5" y="4.4" width="15.4" height="13.2" fill="#fff" stroke="#2868c8" stroke-width="1"/><rect x="575.5" y="4.4" width="15.4" height="2" fill="#5898e8"/><path d="M576,11.6 h14.4" stroke="#88b0e0" stroke-width="0.8"/>
<path d="M577.5,10 h2 l1.6,-1.4 h1.6 l1.4,1 h1.8 l1,-1 h1.2" stroke="#a02808" stroke-width="1.1" fill="none"/><path d="M578,15.6 h1.6 l1.4,-1 1.6,1 2,-2.4 2,2.6 1,0.4" stroke="#109020" stroke-width="1.1" fill="none"/>
<path d="M597.4,10 h6 l-3,3.4 z" fill="#000"/>
<rect class="ce" x="609" y="0" width="1" height="21" fill="#a0a0a0"/>
<rect class="ce" x="610" y="0" width="1" height="21" fill="#fff"/>
<rect class="ce" x="613" y="1" width="3" height="1" fill="#a0a0a0"/>
<rect class="ce" x="613" y="3" width="3" height="1" fill="#a0a0a0"/>
<rect class="ce" x="613" y="5" width="3" height="1" fill="#a0a0a0"/>
<rect class="ce" x="613" y="7" width="3" height="1" fill="#a0a0a0"/>
<rect class="ce" x="613" y="9" width="3" height="1" fill="#a0a0a0"/>
<rect class="ce" x="613" y="11" width="3" height="1" fill="#a0a0a0"/>
<rect class="ce" x="613" y="13" width="3" height="1" fill="#a0a0a0"/>
<rect class="ce" x="613" y="15" width="3" height="1" fill="#a0a0a0"/>
<rect class="ce" x="613" y="17" width="3" height="1" fill="#a0a0a0"/>
<rect class="ce" x="613" y="19" width="3" height="1" fill="#a0a0a0"/>
<rect class="ce" x="620" y="0" width="24" height="21" fill="#f9f9f9"/>
<rect class="ce" x="619" y="0" width="1" height="21" fill="#a0a0a0"/>
<path d="M627,4 L627,15 L629.6,12.8 L631.6,17.8 L633.4,17 L631.4,12.2 L634.8,12 z" fill="#4a4a4a"/>
<path d="M652,11.5 h7 M660,11.5 h7 M659.5,4 v7 M659.5,12 v7" stroke="#4a4a4a" stroke-width="1.1"/>
<rect class="ce" x="676" y="0" width="1" height="21" fill="#a0a0a0"/>
<path d="M693.5,5 V18" stroke="#4a4a4a" stroke-width="1.2"/>
<path d="M716,11.6 H728" stroke="#4a4a4a" stroke-width="1.2"/>
<path d="M743.8,17.8 L755.8,6" stroke="#4a4a4a" stroke-width="1"/>
<g stroke="#4a4a4a" stroke-width="1" fill="none"><path d="M770,12.6 L778.4,5 M771.4,17.6 L784,8.6"/><path d="M773.4,10 l0.6,5.6 M775.6,8.2 l0.8,5.8 M778,6.2 l0.8,6 M781,3.4 l0.6,7"/></g>
<text x="780.8" y="19.6" style="font-size:6.4px;font-weight:bold;fill:#333;stroke:none">E</text>
<g stroke="#4a4a4a" stroke-width="1" stroke-dasharray="1 1" class="ce"><path d="M799,4.5 H812 M799,7.5 H812 M799,11.5 H812 M799,15.5 H808"/></g>
<text x="808.6" y="19.6" style="font-size:6.4px;font-weight:bold;fill:#333;stroke:none">F</text>
<text x="829.4" y="16" style="font-size:12.6px;fill:#4a4a4a;font-weight:bold;stroke:none" textLength="8.2" lengthAdjust="spacingAndGlyphs">A</text>
<rect x="856.5" y="5.5" width="11" height="12" fill="none" stroke="#4a4a4a" stroke-width="1" stroke-dasharray="1 1" class="ce"/>
<path d="M858.2,8.4 H866 M862.1,8.4 V15.8" stroke="#4a4a4a" stroke-width="1.5"/>
<path d="M886.4,5 l3.4,2.8 l-3.4,2 l-3.4,-2 z M893.4,18 l-3.6,-2.8 l3.6,-2 l3.6,2 z" fill="#4a4a4a"/><path d="M885.2,12 l2,1.8 l4.4,-4.8" stroke="#4a4a4a" stroke-width="1.1" fill="none"/>
<path d="M903.4,10 h6 l-3,3.4 z" fill="#000"/>
<rect class="ce" x="915" y="0" width="1" height="21" fill="#a0a0a0"/>
<rect class="ce" x="916" y="0" width="1" height="21" fill="#fff"/>
<rect class="ce" x="919" y="1" width="3" height="1" fill="#a0a0a0"/>
<rect class="ce" x="919" y="3" width="3" height="1" fill="#a0a0a0"/>
<rect class="ce" x="919" y="5" width="3" height="1" fill="#a0a0a0"/>
<rect class="ce" x="919" y="7" width="3" height="1" fill="#a0a0a0"/>
<rect class="ce" x="919" y="9" width="3" height="1" fill="#a0a0a0"/>
<rect class="ce" x="919" y="11" width="3" height="1" fill="#a0a0a0"/>
<rect class="ce" x="919" y="13" width="3" height="1" fill="#a0a0a0"/>
<rect class="ce" x="919" y="15" width="3" height="1" fill="#a0a0a0"/>
<rect class="ce" x="919" y="17" width="3" height="1" fill="#a0a0a0"/>
<rect class="ce" x="919" y="19" width="3" height="1" fill="#a0a0a0"/>
<rect class="ce" x="1066" y="0" width="25" height="21" fill="#f9f9f9"/>
<rect class="ce" x="1065" y="0" width="1" height="21" fill="#a0a0a0"/>
<text class="tf" x="930.2" y="14.6">M1</text>
<text class="tf" x="958.6" y="14.6">M5</text>
<text class="tf" x="984.5" y="14.6">M15</text>
<text class="tf" x="1012.2" y="14.6">M30</text>
<text class="tf" x="1043.4" y="14.6">H1</text>
<text class="tf" x="1070.6" y="14.6">H4</text>
<text class="tf" x="1099.2" y="14.6">D1</text>
<text class="tf" x="1126.6" y="14.6">W1</text>
<text class="tf" x="1153.6" y="14.6">MN</text>
<rect class="ce" x="1176" y="0" width="1" height="21" fill="#a0a0a0"/>
<path d="M1643.6,11.8 L1639.2,15.8" stroke="#1848c0" stroke-width="2.6" stroke-linecap="round"/><circle cx="1646.6" cy="8.3" r="4.2" fill="#fff" stroke="#2050d0" stroke-width="1.2"/>
<path d="M1664,13 q0,-4.6 5.4,-4.6 q5.4,0 5.4,4.4 q0,4 -5,4 h-2.4 l-1.6,2.6 l-0.2,-3 q-1.6,-1 -1.6,-3.4 z" fill="#e8e8ee" stroke="#a8a8a8" stroke-width="0.9"/>
<circle cx="1677.4" cy="8.4" r="8.3" fill="url(#rb)"/>
<text x="1673" y="13" style="font-size:13.4px;fill:#fff;font-weight:bold;stroke:none;font-family:'Liberation Serif',serif">1</text>
</svg></body></html>
